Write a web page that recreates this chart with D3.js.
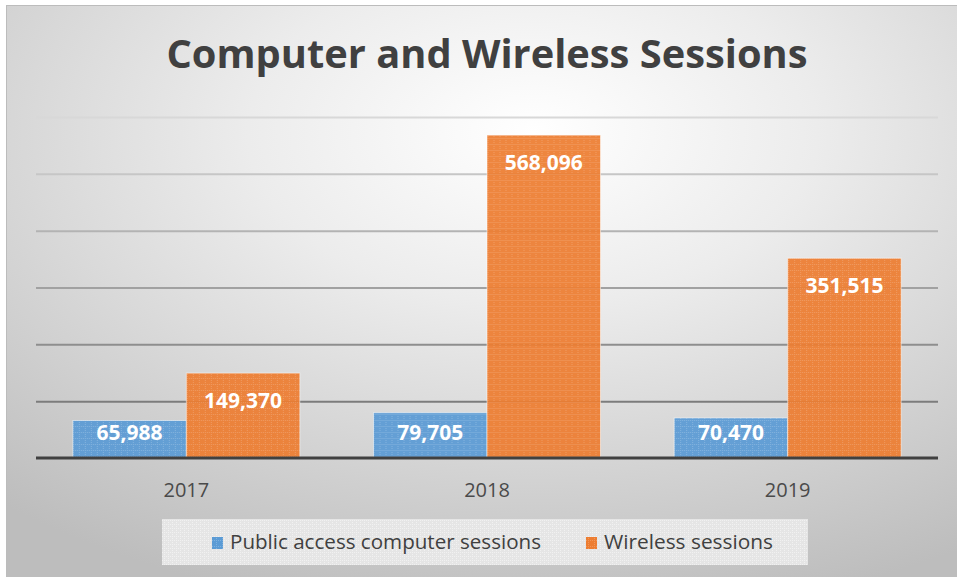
<!DOCTYPE html>
<html>
<head>
<meta charset="utf-8">
<script src="https://d3js.org/d3.v7.min.js"></script>
<style>
  html, body { margin: 0; padding: 0; background: #fff; }
  svg { display: block; }
  text { font-family: "Open Sans", "Noto Sans", sans-serif; }
</style>
</head>
<body>
<div id="chart"></div>
<script>
(function() {
"use strict";

const years = ["2017", "2018", "2019"];
const publicSessions = [65988, 79705, 70470];
const wirelessSessions = [149370, 568096, 351515];
const seriesNames = ["Public access computer sessions", "Wireless sessions"];
const seriesColors = ["#5b9bd5", "#ed7d31"];
const yTicks = [100000, 200000, 300000, 400000, 500000, 600000];

const W = 957, H = 577;
const plot = { left: 36, right: 938, top: 117, bottom: 458 };

const svg = d3.select("#chart").append("svg")
  .attr("width", W)
  .attr("height", H);

const defs = svg.append("defs");

// background: radial gradient like the office preset
const bg = defs.append("radialGradient")
  .attr("id", "bg")
  .attr("cx", "55%").attr("cy", "22%").attr("r", "85%");
bg.append("stop").attr("offset", "0%").attr("stop-color", "#ffffff");
bg.append("stop").attr("offset", "35%").attr("stop-color", "#ececec");
bg.append("stop").attr("offset", "100%").attr("stop-color", "#bdbdbd");

// textured fills for bars
const makePattern = (id, base, light, size) => {
  const p = defs.append("pattern")
    .attr("id", id)
    .attr("patternUnits", "userSpaceOnUse")
    .attr("width", size).attr("height", size);
  p.append("rect").attr("width", size).attr("height", size).attr("fill", base);
  p.append("path")
    .attr("d", `M0,0.5H${size}M0.5,0V${size}`)
    .attr("stroke", light)
    .attr("stroke-width", 1)
    .attr("stroke-dasharray", "1,1")
    .attr("opacity", 0.45);
  return `url(#${id})`;
};
const fills = [
  makePattern("patBlue", seriesColors[0], "#a9cbea", 6),
  makePattern("patOrange", seriesColors[1], "#f6b48a", 6)
];
const legendFill = makePattern("patLegend", "#e5e5e5", "#ffffff", 4);

// chart area
svg.append("rect")
  .attr("x", 6.5).attr("y", 5.5)
  .attr("width", W).attr("height", H)
  .attr("fill", "url(#bg)")
  .attr("stroke", "#bcbcbc");

// title
svg.append("text")
  .attr("x", 487).attr("y", 68)
  .attr("text-anchor", "middle")
  .attr("font-size", 39)
  .attr("font-weight", 700)
  .attr("fill", "#404040")
  .attr("textLength", 641)
  .attr("lengthAdjust", "spacingAndGlyphs")
  .text("Computer and Wireless Sessions");

const x0 = d3.scaleBand()
  .domain(years)
  .range([plot.left, plot.right])
  .paddingInner(0.245)
  .paddingOuter(0.1225);

const x1 = d3.scaleBand()
  .domain(d3.range(seriesNames.length))
  .range([0, x0.bandwidth()]);

const y = d3.scaleLinear()
  .domain([0, 600000])
  .range([plot.bottom, plot.top]);

// gridlines get lighter toward the top
const gridColor = d3.scaleLinear()
  .domain([100000, 600000])
  .range(["#7c7c7c", "#d8d8d8"]);

const grid = svg.append("g")
  .attr("transform", `translate(${plot.left},0)`)
  .call(d3.axisLeft(y).tickValues(yTicks).tickSize(-(plot.right - plot.left)).tickFormat(""));
grid.select(".domain").remove();
grid.selectAll(".tick line")
  .attr("stroke", d => gridColor(d))
  .attr("stroke-width", 2);

const rows = years.map((yr, i) => ({ year: yr, values: [publicSessions[i], wirelessSessions[i]] }));

const groups = svg.append("g").selectAll("g")
  .data(rows)
  .join("g")
  .attr("transform", d => `translate(${x0(d.year)},0)`);

groups.selectAll("rect")
  .data(d => d.values.map((v, k) => ({ v, k })))
  .join("rect")
  .attr("x", d => x1(d.k))
  .attr("y", d => y(d.v))
  .attr("width", x1.bandwidth())
  .attr("height", d => y(0) - y(d.v))
  .attr("fill", d => fills[d.k])
  .attr("fill-opacity", 0.93)
  .attr("stroke", "#ffffff")
  .attr("stroke-opacity", 0.5)
  .attr("stroke-width", 1);

groups.selectAll("text")
  .data(d => d.values.map((v, k) => ({ v, k })))
  .join("text")
  .attr("x", d => x1(d.k) + x1.bandwidth() / 2)
  .attr("y", d => Math.min(y(d.v) + 35, 440))
  .attr("text-anchor", "middle")
  .attr("font-size", 21)
  .attr("font-weight", 700)
  .attr("fill", "#ffffff")
  .text(d => d3.format(",")(d.v));

// base line
svg.append("line")
  .attr("x1", plot.left).attr("x2", plot.right)
  .attr("y1", y(0)).attr("y2", y(0))
  .attr("stroke", "#404040")
  .attr("stroke-width", 3);

const xAxis = svg.append("g")
  .attr("transform", `translate(0,${plot.bottom})`)
  .call(d3.axisBottom(x0).tickSize(0).tickPadding(25));
xAxis.select(".domain").remove();
xAxis.selectAll("text")
  .attr("font-family", "Open Sans, sans-serif")
  .attr("font-size", 20)
  .attr("fill", "#4a4a4a");

// legend
const legend = svg.append("g");
legend.append("rect")
  .attr("x", 162).attr("y", 519)
  .attr("width", 646).attr("height", 46)
  .attr("fill", legendFill);

const legendItems = [
  { x: 212, w: 311 },
  { x: 586, w: 169 }
];
legendItems.forEach((it, k) => {
  legend.append("rect")
    .attr("x", it.x).attr("y", 537)
    .attr("width", 11).attr("height", 12)
    .attr("fill", fills[k]);
  legend.append("text")
    .attr("x", it.x + 18).attr("y", 549)
    .attr("font-size", 20)
    .attr("fill", "#404040")
    .attr("textLength", it.w)
    .attr("lengthAdjust", "spacingAndGlyphs")
    .text(seriesNames[k]);
});

})();
</script>
</body>
</html>
